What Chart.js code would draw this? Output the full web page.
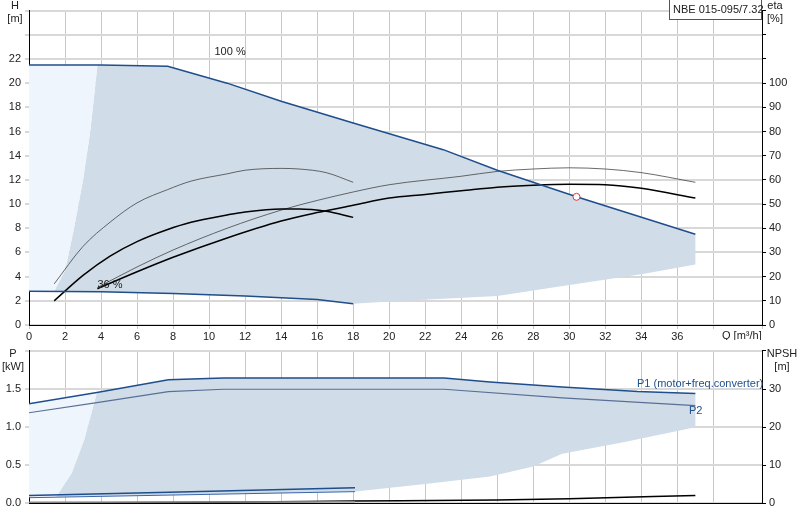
<!DOCTYPE html>
<html>
<head>
<meta charset="utf-8">
<script src="https://cdn.jsdelivr.net/npm/chart.js@4/dist/chart.umd.min.js"></script>
<style>
  body { margin: 0; background: #fff; }
  #wrap { position: relative; width: 800px; height: 520px; }
  .box { position: absolute; left: 0; width: 800px; }
</style>
</head>
<body>
<div id="wrap">
  <div class="box" style="top:0;height:340px"><canvas id="top" width="800" height="340"></canvas></div>
  <div class="box" style="top:340px;height:180px"><canvas id="bottom" width="800" height="180"></canvas></div>
</div>
<script>
// --- data (Q in m³/h) ---
const curve100Q = [0, 4, 7.7, 11, 14, 18, 23, 26, 30.4, 37];
const curve100H = [21.5, 21.5, 21.4, 20, 18.5, 16.7, 14.5, 12.8, 10.6, 7.5];
const curveMinQ = [0, 4, 8, 12, 16, 18];
const curveMinH = [2.8, 2.75, 2.6, 2.4, 2.1, 1.75];

const leftEdgeQ = [1.4, 2, 2.5, 3, 3.4, 3.8];
const leftEdgeH = [2.8, 4.5, 8, 12, 16, 21.5];
const lowEdgeQ = [1.4, 4, 8, 12, 16, 18, 20, 26, 30, 34, 37];
const lowEdgeH = [2.8, 2.75, 2.6, 2.4, 2.1, 1.75, 1.95, 2.4, 3.3, 4.2, 5];

const hThinQ = [1.4, 3, 4.5, 6, 7.7, 9, 11, 12, 14, 15, 16.5, 18];
const hThinH = [3.4, 6.5, 8.5, 10.1, 11.2, 11.9, 12.5, 12.8, 12.95, 12.9, 12.6, 11.8];
const hThickQ = [1.4, 3, 4.5, 6, 7.7, 9, 11, 12, 14, 15, 16.5, 18];
const hThickH = [2, 4.1, 5.7, 6.9, 7.9, 8.5, 9.1, 9.35, 9.6, 9.6, 9.4, 8.9];

const etaThinQ = [3.8, 6, 8, 11, 14, 16, 18, 20, 24, 26, 28, 30, 32, 34, 37];
const etaThin = [15.5, 24, 31, 40, 47.5, 51.5, 55, 58, 61.5, 63.5, 64.5, 65, 64.5, 63, 59];
const etaThickQ = [3.8, 6, 8, 11, 14, 16, 18, 20, 22, 24, 26, 28, 30, 32, 34, 37];
const etaThick = [15, 22, 28, 36, 43, 46.5, 49.5, 52.5, 54, 55.5, 57, 57.8, 58.2, 58, 56.5, 52.5];

const dutyQ = 30.4, dutyH = 10.6;

const p1Q = [0, 3.77, 7.74, 10.8, 23.05, 25.6, 29.6, 33.8, 37];
const p1 = [1.31, 1.456, 1.627, 1.65, 1.65, 1.596, 1.53, 1.47, 1.443];
const p2Q = [0, 3.77, 7.74, 10.8, 23.05, 29.6, 37];
const p2 = [1.19, 1.325, 1.47, 1.5, 1.5, 1.386, 1.285];
const pLeftQ = [1.5, 2.36, 3.06, 3.77];
const pLeft = [0.08, 0.39, 0.83, 1.456];
const pLowQ = [1.5, 18, 22, 25.6, 28, 29.6, 33, 37];
const pLow = [0.08, 0.15, 0.25, 0.35, 0.48, 0.65, 0.8, 1.0];
const pMinAQ = [0, 18.1], pMinA = [0.1, 0.2];
const pMinBQ = [0, 18.1], pMinB = [0.07, 0.15];
const npshQ = [1.3, 10, 18, 26, 30, 37];
const npsh = [0, 0.2, 0.5, 0.8, 1.1, 2];

const pts = (xs, ys) => xs.map((x, i) => ({ x, y: ys[i] }));
const rev = a => a.slice().reverse();

const FONT = { family: "Liberation Sans", size: 11 };
Chart.defaults.font = FONT;
Chart.defaults.color = "#222";
Chart.defaults.animation = false;

const GRID = "#d8d8d8";
const DARK = "#d0dce8", LIGHT = "#eef5fc", BLUE = "#1f4e8c";

function line(data, color, width, extra = {}) {
  return Object.assign({ data, borderColor: color, borderWidth: width, pointRadius: 0,
    showLine: true, fill: false, cubicInterpolationMode: "monotone", order: 1 }, extra);
}
// filled areas go to the back (higher order = drawn first)
function shape(data, color) {
  return { data, showLine: true, borderWidth: 0, borderColor: "rgba(0,0,0,0)", pointRadius: 0,
    backgroundColor: color, fill: "shape", tension: 0, order: 10 };
}

function fixW(w) { return s => { s.width = w; }; }
function fixH(h) { return s => { s.height = h; }; }

// --- top chart ---
const lightTop = [{ x: 0, y: 2.8 }, ...pts(leftEdgeQ, leftEdgeH), { x: 0, y: 21.5 }];
const darkTop = [...pts(lowEdgeQ, lowEdgeH), { x: 37, y: 7.5 },
  ...rev(pts(curve100Q, curve100H).filter(p => p.x > 3.8 && p.x < 37)), ...rev(pts(leftEdgeQ, leftEdgeH))];

const textTop = {
  id: "textTop",
  afterDraw(c) {
    const g = c.ctx;
    g.save();
    g.font = "11px Liberation Sans";
    g.fillStyle = "#222";
    g.textAlign = "center";
    g.fillText("H", 15, 9); g.fillText("[m]", 15, 22);
    g.fillText("eta", 775, 9); g.fillText("[%]", 775, 22);
    g.textAlign = "left";
    g.fillText("Q [m³/h]", 722, 339);
    const x = c.scales.x, y = c.scales.y;
    g.fillText("100 %", x.getPixelForValue(10.3), y.getPixelForValue(22.3));
    g.fillText("36 %", x.getPixelForValue(3.8), y.getPixelForValue(3.1));
    g.fillStyle = "#fff"; g.fillRect(669, 0, 93, 20);
    g.strokeStyle = "#555"; g.lineWidth = 1; g.strokeRect(669.5, -1, 92, 20.5);
    g.fillStyle = "#222"; g.fillText("NBE 015-095/7.32", 673, 13);
    g.restore();
  }
};

new Chart(document.getElementById("top"), {
  type: "scatter",
  data: {
    datasets: [
      shape(lightTop, LIGHT),
      shape(darkTop, DARK),
      line(pts(curve100Q, curve100H), BLUE, 1.5, { cubicInterpolationMode: "default", tension: 0 }),
      line(pts(curveMinQ, curveMinH), BLUE, 1.5, { cubicInterpolationMode: "default", tension: 0 }),
      line(pts(hThinQ, hThinH), "#444", 0.8),
      line(pts(hThickQ, hThickH), "#000", 1.5),
      line(pts(etaThinQ, etaThin), "#444", 0.8, { yAxisID: "y1" }),
      line(pts(etaThickQ, etaThick), "#000", 1.5, { yAxisID: "y1" }),
      { data: [{ x: dutyQ, y: dutyH }], pointRadius: 3.5, pointBackgroundColor: "#fff",
        pointBorderColor: "#e33", pointBorderWidth: 1, order: 0 }
    ]
  },
  options: {
    responsive: false,
    layout: { padding: 0 },
    plugins: { legend: { display: false }, tooltip: { enabled: false } },
    scales: {
      x: { type: "linear", min: 0, max: 40.7, afterFit: fixH(15),
        ticks: { stepSize: 2, padding: 1, maxRotation: 0, callback: v => v <= 36 ? v : "" },
        grid: { color: "#c8c8c8", tickLength: 4 }, border: { color: "#000" } },
      y: { min: 0, max: 26, afterFit: fixW(29),
        ticks: { stepSize: 2, padding: 4, callback: v => v <= 22 ? v : "" },
        grid: { color: GRID, lineWidth: 2, tickLength: 4 }, border: { color: "#000" } },
      y1: { position: "right", min: 0, max: 130, afterFit: fixW(38),
        ticks: { stepSize: 10, padding: 3, callback: v => v <= 100 ? v : "" },
        grid: { drawOnChartArea: false, tickLength: 4, color: "#000" }, border: { color: "#000" } }
    }
  },
  plugins: [textTop]
});

// --- bottom chart ---
const lightBot = [{ x: 0, y: 0.08 }, ...pts(pLeftQ, pLeft), ...rev(pts(p1Q, p1).filter(p => p.x < 3.77)), { x: 0, y: 0.08 }];
const darkBot = [...pts(pLowQ, pLow), ...rev(pts(p1Q, p1).filter(p => p.x > 3.77)), ...rev(pts(pLeftQ, pLeft))];

const textBot = {
  id: "textBot",
  afterDraw(c) {
    const g = c.ctx;
    g.save();
    g.font = "11px Liberation Sans";
    g.fillStyle = "#222";
    g.textAlign = "center";
    g.fillText("P", 13, 17); g.fillText("[kW]", 13, 30);
    g.fillText("NPSH", 782, 17); g.fillText("[m]", 782, 30);
    g.fillStyle = BLUE;
    g.textAlign = "left";
    const y = c.scales.y;
    g.fillText("P1 (motor+freq.converter)", 637, y.getPixelForValue(1.53));
    g.fillText("P2", 689, y.getPixelForValue(1.18));
    g.restore();
  }
};

new Chart(document.getElementById("bottom"), {
  type: "scatter",
  data: {
    datasets: [
      shape(lightBot, LIGHT),
      shape(darkBot, DARK),
      line(pts(p1Q, p1), BLUE, 1.5, { tension: 0, cubicInterpolationMode: "default" }),
      line(pts(p2Q, p2), "#5a6f96", 1.2, { tension: 0, cubicInterpolationMode: "default" }),
      line(pts(pMinAQ, pMinA), BLUE, 1.5),
      line(pts(pMinBQ, pMinB), "#3a66a8", 1),
      line(pts([0, 18.1], [0.01, 0.015]), "#888", 1.5),
      line(pts(npshQ, npsh), "#000", 1.5, { yAxisID: "y1" })
    ]
  },
  options: {
    responsive: false,
    layout: { padding: { top: 10 } },
    plugins: { legend: { display: false }, tooltip: { enabled: false } },
    scales: {
      x: { type: "linear", min: 0, max: 40.7, afterFit: fixH(17),
        ticks: { stepSize: 2, display: false },
        grid: { color: "#c8c8c8", tickLength: 0 }, border: { color: "#000" } },
      y: { min: 0, max: 2.01, afterFit: fixW(29),
        ticks: { stepSize: 0.5, padding: 4, callback: v => v <= 1.5 ? v.toFixed(1) : "" },
        grid: { color: GRID, lineWidth: 2, tickLength: 4 }, border: { color: "#000" } },
      y1: { position: "right", min: 0, max: 40.2, afterFit: fixW(38),
        ticks: { stepSize: 10, padding: 3, callback: v => v <= 30 ? v : "" },
        grid: { drawOnChartArea: false, tickLength: 4, color: "#000" }, border: { color: "#000" } }
    }
  },
  plugins: [textBot]
});
</script>
</body>
</html>
